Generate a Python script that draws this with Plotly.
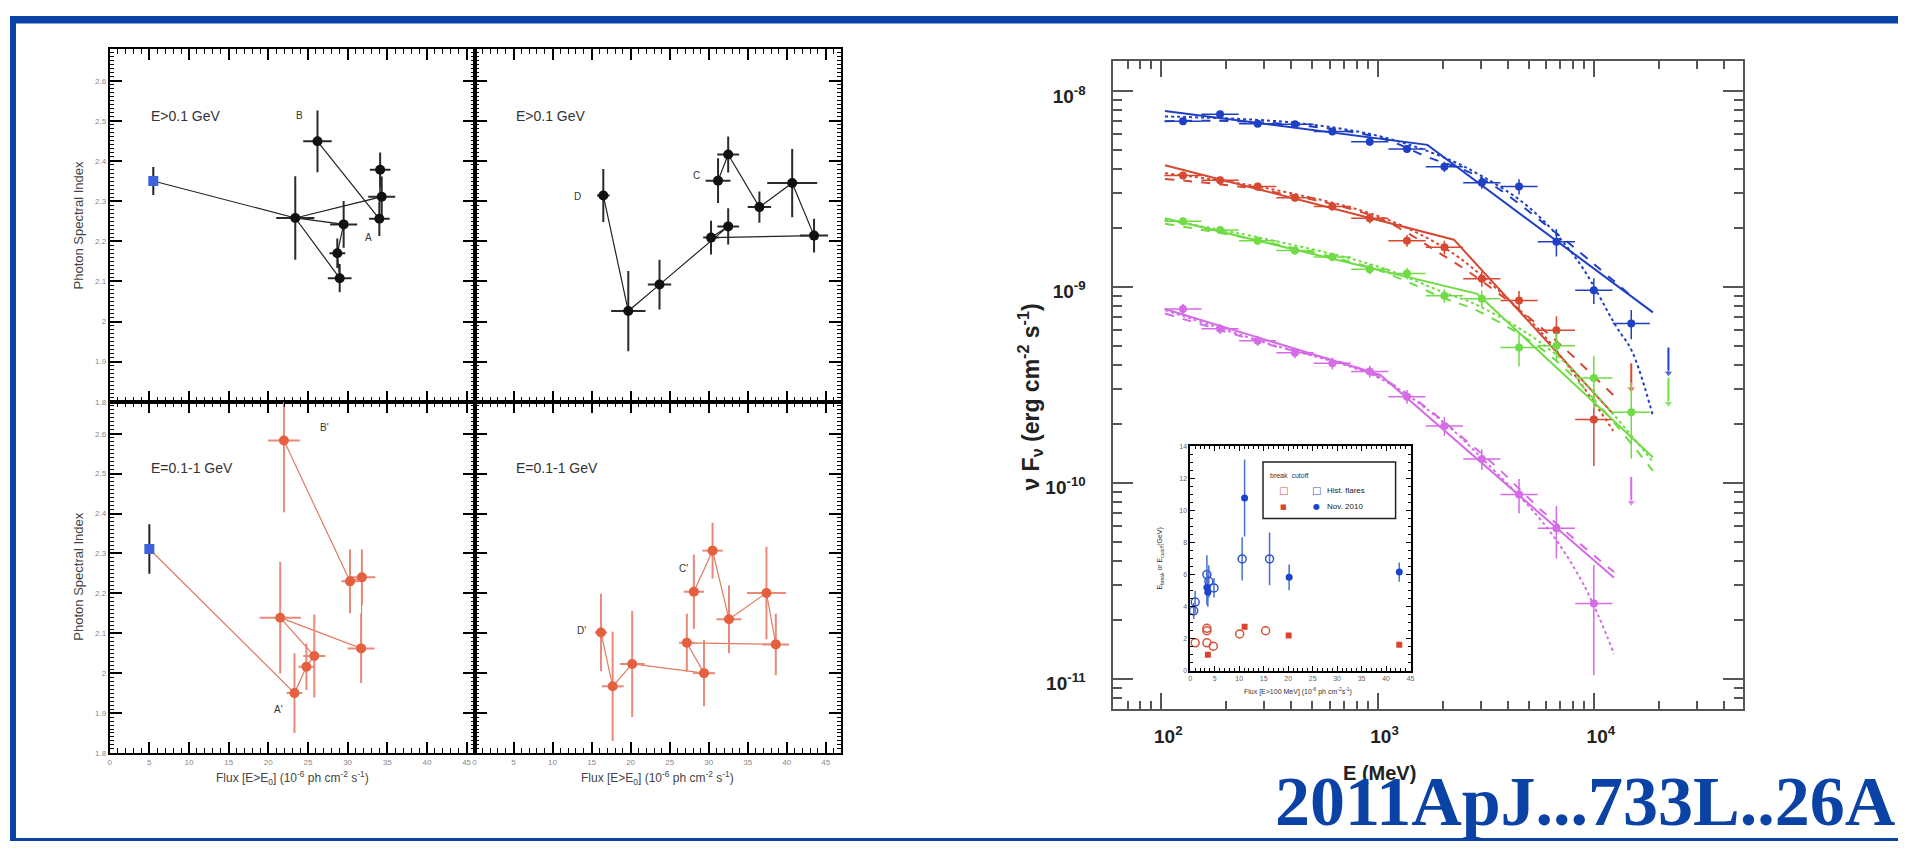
import plotly.graph_objects as go

# page has an 8px body margin, so the figure is sized to fit inside the 1910x854 window
OFF = 8
W, H = 1910 - 2 * OFF, 854 - 2 * OFF

# ---------------- left panels: photon index vs flux ----------------
tl_flux = [23.4, 29.0, 28.7, 29.5, 34.3, 34.1, 34.0, 26.2]
tl_index = [2.258, 2.108, 2.170, 2.242, 2.311, 2.378, 2.256, 2.449]
tl_flux_err = [2.4, 1.5, 1.0, 1.7, 1.7, 1.3, 1.3, 1.8]
tl_index_err = [0.104, 0.035, 0.037, 0.058, 0.05, 0.043, 0.043, 0.077]
tl_order = [0, 1, 2, 3, 0, 4, 5, 6, 7]

tr_flux = [16.5, 19.7, 23.7, 32.5, 30.3, 43.5, 40.7, 36.5, 32.5, 31.2]
tr_index = [2.314, 2.026, 2.092, 2.237, 2.209, 2.214, 2.345, 2.285, 2.416, 2.351]
tr_flux_err = [0.8, 2.2, 1.5, 1.4, 1.0, 1.8, 3.2, 1.5, 1.4, 1.6]
tr_index_err = [0.066, 0.10, 0.062, 0.045, 0.042, 0.042, 0.085, 0.039, 0.045, 0.056]
tr_order = [0, 1, 2, 3, 4, 5, 6, 7, 8, 9]

bl_flux = [23.3, 24.8, 25.8, 21.5, 31.7, 31.8, 30.3, 21.97]
bl_index = [1.950, 2.016, 2.043, 2.139, 2.062, 2.240, 2.230, 2.583]
bl_flux_err = [1.0, 1.0, 1.4, 2.6, 1.7, 1.7, 1.1, 2.0]
bl_index_err = [0.10, 0.058, 0.104, 0.14, 0.087, 0.07, 0.08, 0.18]
bl_order = [0, 1, 2, 3, 4, 5, 6, 7]

br_flux = [16.2, 17.7, 20.2, 29.4, 27.2, 38.6, 37.4, 32.6, 30.5, 28.1]
br_index = [2.102, 1.967, 2.023, 2.000, 2.076, 2.072, 2.201, 2.135, 2.307, 2.204]
br_flux_err = [0.8, 1.4, 1.6, 1.4, 1.0, 1.7, 2.5, 1.6, 1.3, 1.3]
br_index_err = [0.097, 0.137, 0.133, 0.083, 0.073, 0.077, 0.116, 0.085, 0.07, 0.093]
br_order = [0, 1, 2, 3, 4, 5, 6, 7, 8, 9]

hist_top = [5.5, 2.35, 0.035]      # flux, index, index error
hist_bottom = [5.0, 2.311, 0.062]

panel_labels = {
    "tl": [("E>0.1 GeV", 4.9, 2.513, 14), ("B", 23.2, 2.513, 10), ("A", 32.0, 2.209, 10)],
    "tr": [("E>0.1 GeV", 5.1, 2.513, 14), ("D", 12.5, 2.311, 10), ("C", 27.7, 2.364, 10)],
    "bl": [("E=0.1-1 GeV", 5.0, 2.514, 14), ("B'", 26.3, 2.616, 10), ("A'", 20.5, 1.909, 10)],
    "br": [("E=0.1-1 GeV", 5.1, 2.514, 14), ("D'", 12.9, 2.108, 10), ("C'", 26.0, 2.263, 10)],
}

# ---------------- main SED panel ----------------
energy = [126, 187, 279, 415, 618, 920, 1368, 2037, 3034, 4510, 6714, 10000, 14894, 22130]

blue_F = [7.0e-9, 7.6e-9, 6.8e-9, 6.75e-9, 6.2e-9, 5.5e-9, 5.05e-9, 4.1e-9, 3.4e-9, 3.25e-9, 1.7e-9, 9.6e-10, 6.5e-10]
blue_rel = [0.035, 0.035, 0.035, 0.035, 0.035, 0.045, 0.045, 0.06, 0.07, 0.09, 0.16, 0.15, 0.17]
blue_UL = [22130, 4.9e-10]
red_F = [3.7e-9, 3.5e-9, 3.25e-9, 2.85e-9, 2.57e-9, 2.24e-9, 1.72e-9, 1.59e-9, 1.1e-9, 8.5e-10, 6.0e-10, 2.1e-10]
red_rel = [0.045, 0.045, 0.045, 0.045, 0.045, 0.06, 0.07, 0.08, 0.09, 0.12, 0.18, 0.42]
red_UL = [14894, 4.07e-10]
green_F = [2.16e-9, 1.95e-9, 1.72e-9, 1.53e-9, 1.42e-9, 1.23e-9, 1.17e-9, 9.0e-10, 8.7e-10, 4.9e-10, 5.0e-10, 3.42e-10, 2.29e-10]
green_rel = [0.045, 0.045, 0.045, 0.045, 0.05, 0.06, 0.07, 0.08, 0.1, 0.2, 0.17, 0.3, 0.42]
green_UL = [22130, 3.43e-10]
mag_F = [7.7e-10, 6.1e-10, 5.3e-10, 4.6e-10, 4.07e-10, 3.69e-10, 2.75e-10, 1.95e-10, 1.32e-10, 8.7e-11, 5.86e-11, 2.42e-11]
mag_rel = [0.06, 0.06, 0.06, 0.06, 0.07, 0.07, 0.08, 0.11, 0.12, 0.2, 0.3, 0.57]
mag_UL = [14894, 1.07e-10]

# model curves (solid: broken PL, dashed: log-parabola, dotted: PL+exp cutoff)
blue_solid = ([104, 1700, 18750], [7.9e-9, 5.3e-9, 7.4e-10])
blue_dash = ([104, 300, 1000, 1700, 3000, 6700, 15200], [7.0e-9, 6.9e-9, 5.8e-9, 4.6e-9, 3.6e-9, 1.88e-9, 8.8e-10])
blue_dot = ([104, 400, 1000, 2000, 3000, 5000, 8340, 12770, 15000, 18750],
            [7.4e-9, 6.9e-9, 5.9e-9, 4.6e-9, 3.7e-9, 2.55e-9, 1.38e-9, 6.2e-10, 4.7e-10, 2.2e-10])
red_solid = ([104, 2255, 12300], [4.17e-9, 1.74e-9, 2.24e-10])
red_dash = ([104, 300, 1000, 2000, 3000, 6000, 12300], [3.55e-9, 3.1e-9, 2.25e-9, 1.45e-9, 1.08e-9, 5.9e-10, 2.8e-10])
red_dot = ([104, 300, 1000, 2000, 3000, 6000, 12300], [3.8e-9, 3.2e-9, 2.3e-9, 1.6e-9, 1.15e-9, 5.5e-10, 1.84e-10])
green_solid = ([104, 2890, 18750], [2.24e-9, 9.2e-10, 1.35e-10])
green_dash = ([104, 300, 1000, 2000, 3000, 6700, 18750], [2.1e-9, 1.7e-9, 1.22e-9, 8.8e-10, 7.4e-10, 4.2e-10, 1.15e-10])
green_dot = ([104, 300, 1000, 2000, 3000, 6700, 18750], [2.2e-9, 1.76e-9, 1.27e-9, 9.4e-10, 7.9e-10, 4.5e-10, 1.28e-10])
mag_solid = ([104, 1030, 12400], [7.7e-10, 3.55e-10, 3.27e-11])
mag_dash = ([104, 300, 1000, 3000, 6000, 12400], [7.3e-10, 5.15e-10, 3.5e-10, 1.42e-10, 6.9e-11, 3.5e-11])
mag_dot = ([104, 300, 1000, 2000, 3000, 6000, 9000, 12400], [7.6e-10, 5.2e-10, 3.45e-10, 2.05e-10, 1.35e-10, 6.0e-11, 3.0e-11, 1.34e-11])

# ---------------- inset: E_break / E_cutoff vs flux ----------------
hist_cut_flux = [1.0, 0.7, 3.4, 3.8, 4.85, 10.6, 16.2]
hist_cut_E = [4.29, 3.74, 6.0, 5.58, 5.17, 6.98, 6.98]
hist_cut_err = [0.7, 0.5, 1.2, 1.0, 0.6, 1.35, 1.65]
nov_cut_flux = [3.4, 3.6, 11.1, 20.2, 42.7]
nov_cut_E = [5.2, 4.9, 10.78, 5.83, 6.16]
nov_cut_err = [1.1, 0.9, 2.4, 0.8, 0.6]
hist_brk_flux = [1.0, 3.4, 3.4, 3.4, 4.7, 10.1, 15.4]
hist_brk_E = [1.75, 2.5, 2.65, 1.75, 1.54, 2.3, 2.5]
nov_brk_flux = [3.6, 11.1, 20.1, 42.7]
nov_brk_E = [1.0, 2.75, 2.2, 1.62]

# ---------------- styling ----------------
BLUE, RED, GREEN, MAG = "#1f3fc4", "#d8472f", "#6fdc45", "#d56be6"
FRAME = "#0a42a6"
HALF_BIN = 0.086  # dex


def pxx(x):
    return min(max((x - OFF) / W, 0), 1)


def pyy(y):
    return min(max(1 - (y - OFF) / H, 0), 1)


fig = go.Figure()


def add_panel(xs, ys, xe, ye, order, xa, ya, mcol, ecol, lcol, hist=None):
    lx = [xs[i] for i in order]
    ly = [ys[i] for i in order]
    if hist is not None:
        lx = [hist[0]] + lx
        ly = [hist[1]] + ly
    fig.add_trace(go.Scatter(x=lx, y=ly, mode="lines", line=dict(color=lcol, width=1.2),
                             xaxis=xa, yaxis=ya, showlegend=False, hoverinfo="skip"))
    fig.add_trace(go.Scatter(x=xs, y=ys, mode="markers", marker=dict(color=mcol, size=10),
                             error_x=dict(type="data", array=xe, color=ecol, thickness=2, width=0),
                             error_y=dict(type="data", array=ye, color=ecol, thickness=2, width=0),
                             xaxis=xa, yaxis=ya, showlegend=False))
    if hist is not None:
        fig.add_trace(go.Scatter(x=[hist[0]], y=[hist[1]], mode="markers",
                                 marker=dict(color="#3c62dc", size=10, symbol="square"),
                                 error_y=dict(type="data", array=[hist[2]], color="#222", thickness=2, width=0),
                                 xaxis=xa, yaxis=ya, showlegend=False))


add_panel(tl_flux, tl_index, tl_flux_err, tl_index_err, tl_order, "x", "y", "#111", "#2a2a2a", "#222", hist_top)
add_panel(tr_flux, tr_index, tr_flux_err, tr_index_err, tr_order, "x2", "y2", "#111", "#2a2a2a", "#222")
add_panel(bl_flux, bl_index, bl_flux_err, bl_index_err, bl_order, "x3", "y3", "#e4603e", "#e8897a", "#e07a62", hist_bottom)
add_panel(br_flux, br_index, br_flux_err, br_index_err, br_order, "x4", "y4", "#e4603e", "#e8897a", "#e07a62")

# main SED traces
series = [
    (blue_F, blue_rel, blue_UL, BLUE, blue_solid, blue_dash, blue_dot),
    (red_F, red_rel, red_UL, RED, red_solid, red_dash, red_dot),
    (green_F, green_rel, green_UL, GREEN, green_solid, green_dash, green_dot),
    (mag_F, mag_rel, mag_UL, MAG, mag_solid, mag_dash, mag_dot),
]
up = 10 ** HALF_BIN - 1
dn = 1 - 10 ** (-HALF_BIN)
for F, rel, UL, col, solid, dash, dot in series:
    E = energy[:len(F)]
    fig.add_trace(go.Scatter(x=solid[0], y=solid[1], mode="lines", line=dict(color=col, width=2),
                             xaxis="x5", yaxis="y5", showlegend=False))
    fig.add_trace(go.Scatter(x=dash[0], y=dash[1], mode="lines", line=dict(color=col, width=2, dash="dash", shape="spline"),
                             xaxis="x5", yaxis="y5", showlegend=False))
    fig.add_trace(go.Scatter(x=dot[0], y=dot[1], mode="lines", line=dict(color=col, width=2, dash="dot", shape="spline"),
                             xaxis="x5", yaxis="y5", showlegend=False))
    fig.add_trace(go.Scatter(
        x=E, y=F, mode="markers", marker=dict(color=col, size=8),
        error_x=dict(type="data", array=[e * up for e in E], arrayminus=[e * dn for e in E],
                     color=col, thickness=1.5, width=0),
        error_y=dict(type="data", array=[f * r for f, r in zip(F, rel)], color=col, thickness=1.5, width=0),
        xaxis="x5", yaxis="y5", showlegend=False))
    fig.add_trace(go.Scatter(x=[UL[0], UL[0]], y=[UL[1], UL[1] * 0.74], mode="lines+markers",
                             line=dict(color=col, width=2),
                             marker=dict(symbol=["line-ew", "triangle-down"], size=[0, 8], color=col),
                             xaxis="x5", yaxis="y5", showlegend=False))

# inset traces
fig.add_trace(go.Scatter(x=hist_cut_flux, y=hist_cut_E, mode="markers",
                         marker=dict(symbol="circle-open", size=8, color="#2f55cc", line=dict(width=1.5)),
                         error_y=dict(type="data", array=hist_cut_err, color="#4a6fd6", thickness=1.5, width=0),
                         xaxis="x6", yaxis="y6", showlegend=False))
fig.add_trace(go.Scatter(x=nov_cut_flux, y=nov_cut_E, mode="markers",
                         marker=dict(symbol="circle", size=7, color="#1b45c8"),
                         error_y=dict(type="data", array=nov_cut_err, color="#4a6fd6", thickness=1.5, width=0),
                         xaxis="x6", yaxis="y6", showlegend=False))
fig.add_trace(go.Scatter(x=hist_brk_flux, y=hist_brk_E, mode="markers",
                         marker=dict(symbol="circle-open", size=8, color="#d9513a", line=dict(width=1.5)),
                         xaxis="x6", yaxis="y6", showlegend=False))
fig.add_trace(go.Scatter(x=nov_brk_flux, y=nov_brk_E, mode="markers",
                         marker=dict(symbol="square", size=6, color="#d9462f"),
                         xaxis="x6", yaxis="y6", showlegend=False))

# ---------------- axes ----------------
small_font = dict(family="Liberation Sans", size=8, color="#888")


def left_x(domain, show, rng):
    return dict(domain=domain, range=rng, dtick=5, tick0=0, ticks="inside", ticklen=11, tickwidth=1.5,
                tickcolor="black", mirror="ticks", showline=True, linecolor="black", linewidth=2,
                showgrid=False, zeroline=False, showticklabels=show, tickfont=small_font,
                minor=dict(dtick=1, ticks="inside", ticklen=5, tickwidth=1, tickcolor="black"))


def left_y(domain, anchor, show):
    return dict(domain=domain, anchor=anchor, range=[1.8, 2.68], dtick=0.1, tick0=1.8, ticks="inside",
                ticklen=12, tickwidth=1.5, tickcolor="black", mirror="ticks", showline=True,
                linecolor="black", linewidth=2, showgrid=False, zeroline=False, showticklabels=show,
                tickfont=small_font,
                minor=dict(dtick=0.01, ticks="inside", ticklen=4, tickwidth=1, tickcolor="black"))


top_dom = [pyy(402), pyy(45)]
bot_dom = [pyy(757), pyy(402)]
lx_dom = [pxx(108), pxx(474)]
rx_dom = [pxx(474), pxx(842)]

main_x_minor = [m * 10 ** d for d in range(1, 5) for m in range(2, 10) if 60 <= m * 10 ** d <= 50000]
main_y_minor = [m * 10.0 ** d for d in range(-12, -7) for m in range(2, 10) if 7e-12 <= m * 10.0 ** d <= 1.4e-8]

big_font = dict(family="Liberation Sans", size=19, color="#222")

fig.update_layout(
    width=W, height=H, margin=dict(l=0, r=0, t=0, b=0),
    paper_bgcolor="white", plot_bgcolor="rgba(0,0,0,0)",
    xaxis=dict(left_x(lx_dom, False, [0, 46]), anchor="y"),
    yaxis=left_y(top_dom, "x", True),
    xaxis2=dict(left_x(rx_dom, False, [0, 47]), anchor="y2"),
    yaxis2=left_y(top_dom, "x2", False),
    xaxis3=dict(left_x(lx_dom, True, [0, 46]), anchor="y3"),
    yaxis3=left_y(bot_dom, "x3", True),
    xaxis4=dict(left_x(rx_dom, True, [0, 47]), anchor="y4"),
    yaxis4=left_y(bot_dom, "x4", False),
    xaxis5=dict(domain=[pxx(1115), pxx(1747)], anchor="y5", type="log", range=[1.779, 4.692],
                tickvals=[100, 1000, 10000],
                ticktext=["<b>10<sup>2</sup></b>", "<b>10<sup>3</sup></b>", "<b>10<sup>4</sup></b>"],
                ticks="inside", ticklen=16, tickwidth=1.5, tickcolor="#555", mirror="ticks",
                showline=True, linecolor="#555", linewidth=2, showgrid=False, zeroline=False,
                tickfont=big_font, ticklabelstandoff=9, ticklabelshift=7,
                minor=dict(tickvals=main_x_minor, ticks="inside", ticklen=8, tickwidth=1.5, tickcolor="#555")),
    yaxis5=dict(domain=[pyy(713), pyy(58)], anchor="x5", type="log", range=[-11.157, -7.85],
                tickvals=[1e-11, 1e-10, 1e-9, 1e-8],
                ticktext=["<b>10<sup>-11</sup></b>", "<b>10<sup>-10</sup></b>", "<b>10<sup>-9</sup></b>", "<b>10<sup>-8</sup></b>"],
                ticks="inside", ticklen=20, tickwidth=1.5, tickcolor="#555", mirror="ticks",
                showline=True, linecolor="#555", linewidth=2, showgrid=False, zeroline=False,
                tickfont=big_font, ticklabelstandoff=22, ticklabelshift=5,
                minor=dict(tickvals=main_y_minor, ticks="inside", ticklen=9, tickwidth=1.5, tickcolor="#555")),
    xaxis6=dict(domain=[pxx(1192), pxx(1413)], anchor="y6", range=[0, 45], dtick=5, tick0=0,
                ticks="inside", ticklen=5, tickwidth=1, tickcolor="black", mirror="ticks", showline=True,
                linecolor="black", linewidth=1.5, showgrid=False, zeroline=False,
                tickfont=dict(family="Liberation Sans", size=7, color="#666"),
                minor=dict(dtick=1, ticks="inside", ticklen=3, tickwidth=1, tickcolor="black")),
    yaxis6=dict(domain=[pyy(674), pyy(447)], anchor="x6", range=[0, 14], dtick=2, tick0=0,
                ticks="inside", ticklen=5, tickwidth=1, tickcolor="black", mirror="ticks", showline=True,
                linecolor="black", linewidth=1.5, showgrid=False, zeroline=False,
                tickfont=dict(family="Liberation Sans", size=7, color="#666"),
                minor=dict(dtick=0.5, ticks="inside", ticklen=3, tickwidth=1, tickcolor="black")),
)

# ---------------- annotations ----------------
ann = []


def note(text, x, y, font, xanchor="center", yanchor="middle", angle=0):
    ann.append(dict(text=text, x=pxx(x), y=pyy(y), xref="paper", yref="paper", xanchor=xanchor,
                    yanchor=yanchor, textangle=angle, showarrow=False, font=font))


for key, (xr, yr) in {"tl": ("x", "y"), "tr": ("x2", "y2"), "bl": ("x3", "y3"), "br": ("x4", "y4")}.items():
    for text, xv, yv, fs in panel_labels[key]:
        ann.append(dict(text=text, x=xv, y=yv, xref=xr, yref=yr, xanchor="left", yanchor="middle",
                        showarrow=False, font=dict(family="Liberation Sans", size=fs, color="#333")))

ttl_font = dict(family="Liberation Sans", size=13, color="#444")
for yc in (224, 579):
    note("Photon Spectral Index", 77, yc, ttl_font, angle=-90)
for xc in (291, 658):
    note("Flux [E>E<sub>0</sub>] (10<sup>-6</sup> ph cm<sup>-2</sup> s<sup>-1</sup>)", xc, 782,
         dict(family="Liberation Sans", size=12, color="#444"))

note("<b>ν F<sub>ν</sub> (erg cm<sup>-2</sup> s<sup>-1</sup>)</b>", 1031, 397,
     dict(family="Liberation Sans", size=23, color="#222"), angle=-90)
note("<b>E (MeV)</b>", 1382, 777, dict(family="Liberation Sans", size=20, color="#222"))

inset_font = dict(family="Liberation Sans", size=7, color="#333")
note("E<sub>break</sub> or E<sub>cutoff</sub>(GeV)", 1162, 560, inset_font, angle=-90)
note("Flux [E>100 MeV] (10<sup>-6</sup> ph cm<sup>-2</sup>s<sup>-1</sup>)", 1300, 695, inset_font)
# inset legend
note("break  cutoff", 1270, 477, inset_font, xanchor="left")
note("□", 1286, 492, dict(family="DejaVu Sans", size=10, color="#d9513a"))
note("□", 1319, 492, dict(family="DejaVu Sans", size=10, color="#2f55cc"))
note("Hist. flares", 1327, 492, dict(family="Liberation Sans", size=8, color="#222"), xanchor="left")
note("■", 1286, 508, dict(family="DejaVu Sans", size=7, color="#d9462f"))
note("●", 1319, 508, dict(family="DejaVu Sans", size=8, color="#1b45c8"))
note("Nov. 2010", 1327, 508, dict(family="Liberation Sans", size=8, color="#222"), xanchor="left")

note("<b>2011ApJ...733L..26A</b>", 1910, 806, dict(family="Liberation Serif", size=70, color=FRAME),
     xanchor="right")

fig.update_layout(annotations=ann)

shapes = [
    dict(type="rect", xref="paper", yref="paper", x0=pxx(7), x1=1, y0=pyy(19.5), y1=pyy(12),
         fillcolor=FRAME, line=dict(width=0)),
    dict(type="rect", xref="paper", yref="paper", x0=pxx(7), x1=pxx(14), y0=pyy(848), y1=pyy(12),
         fillcolor=FRAME, line=dict(width=0)),
    dict(type="rect", xref="paper", yref="paper", x0=pxx(7), x1=1, y0=pyy(848), y1=pyy(843),
         fillcolor=FRAME, line=dict(width=0)),
    dict(type="rect", xref="paper", yref="paper", x0=pxx(1265), x1=pxx(1398), y0=pyy(520), y1=pyy(463),
         line=dict(color="#222", width=1.5)),
]
fig.update_layout(shapes=shapes)

fig.write_html("out.html")
